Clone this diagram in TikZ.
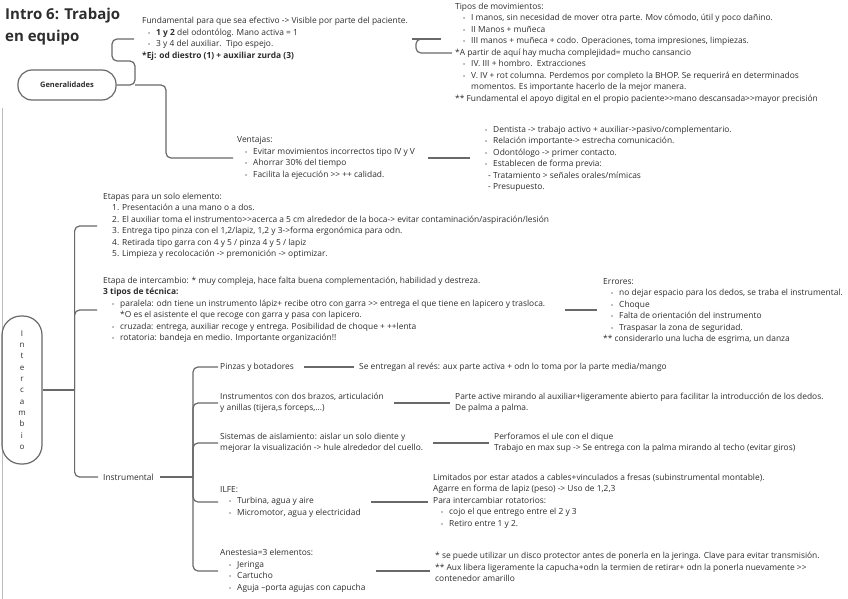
\documentclass[tikz,border=0pt]{standalone}
\usepackage{fontspec}
\setmainfont{Open Sans}
\usetikzlibrary{positioning,arrows.meta}
\definecolor{inkgray}{RGB}{45,45,45}
\definecolor{wiregray}{RGB}{105,105,105}
\newcommand{\bul}[1][0pt]{\hspace*{#1}\makebox[8pt][l]{\fontsize{5.5}{5}\selectfont•}}

\begin{document}
\begin{tikzpicture}[x=1pt, y=-1pt,
  note/.style={anchor=west, align=left, inner sep=0pt, text=inkgray, font=\fontsize{8.4}{11.5}\selectfont},
  pill/.style={draw=wiregray, line width=1.2pt, rounded corners=#1, text=inkgray, align=center},
  link/.style={draw=wiregray, line width=1.2pt, rounded corners=5pt}]
  \useasboundingbox (0,0) rectangle (848,599);
  \draw[wiregray!45, line width=0.6pt] (2,108) -- (2,599);
  \node[anchor=north west, inner sep=0pt, align=left, text=inkgray, font=\fontsize{15}{22}\selectfont\bfseries] (title) at (5,8) {Intro 6: Trabajo\\en equipo};

  % Generalidades
  \node[pill=14pt, minimum width=98pt, minimum height=30pt, font=\fontsize{7.5}{8}\selectfont\bfseries] (gen) at (67,85) {Generalidades};
  \node[note] (fund) at (142,39) {Fundamental para que sea efectivo -> Visible por parte del paciente.\\
    \bul[6pt]\textbf{1 y 2} del odontólog. Mano activa = 1\\
    \bul[6pt]3 y 4 del auxiliar.\ \ Tipo espejo.\\
    \textbf{*Ej: od diestro (1) + auxiliar zurda (3)}};
  \node[note] (tipos) at (455,53) {Tipos de movimientos:\\
    \bul[8pt]I manos, sin necesidad de mover otra parte. Mov cómodo, útil y poco dañino.\\
    \bul[8pt]II Manos + muñeca\\
    \bul[8pt]III manos + muñeca + codo. Operaciones, toma impresiones, limpiezas.\\
    *A partir de aquí hay mucha complejidad= mucho cansancio\\
    \bul[8pt]IV. III + hombro.\ \ Extracciones\\
    \bul[8pt]V. IV + rot columna. Perdemos por completo la BHOP. Se requerirá en determinados\\
    \hspace*{16pt}momentos. Es importante hacerlo de la mejor manera.\\
    ** Fundamental el apoyo digital en el propio paciente>{}>mano descansada>{}>mayor precisión};
  \node[note] (vent) at (237,158) {Ventajas:\\
    \bul[8pt]Evitar movimientos incorrectos tipo IV y V\\
    \bul[8pt]Ahorrar 30\% del tiempo\\
    \bul[8pt]Facilita la ejecución >{}> ++ calidad.};
  \node[note] (dent) at (485,159) {\bul Dentista -> trabajo activo + auxiliar->pasivo/complementario.\\
    \bul Relación importante-> estrecha comunicación.\\
    \bul Odontólogo -> primer contacto.\\
    \bul Establecen de forma previa:\\
    \hspace*{3pt}- Tratamiento > señales orales/mímicas\\
    \hspace*{3pt}- Presupuesto.};
  \coordinate (gj) at (135,85);
  \draw[link] (gen.east) -- (gj) -- (135,61) -- (112,61) |- ([xshift=-8pt]fund.west);
  \draw[link] (gj) -- (166,85) |- ([xshift=-4pt]vent.west);
  \draw[link] ([xshift=4pt]fund.east) -- ++(29,0);
  \draw[link] ([xshift=33pt]fund.east) -- ([xshift=8pt]fund.east) |- ([xshift=-3pt]tipos.west);
  \draw[link, shorten <=13pt, shorten >=15pt] (vent.east) -- (vent.east -| dent.west);

  % Intercambio
  \node[pill=19pt, minimum width=40pt, minimum height=148pt, font=\fontsize{8}{11.3}\selectfont] (inter) at (22,390) {I\\n\\t\\e\\r\\c\\a\\m\\b\\i\\o};
  \node[note] (etapas) at (103,226) {Etapas para un solo elemento:\\
    \hspace*{9pt}1. Presentación a una mano o a dos.\\
    \hspace*{9pt}2. El auxiliar toma el instrumento>{}>acerca a 5 cm alrededor de la boca-> evitar contaminación/aspiración/lesión\\
    \hspace*{9pt}3. Entrega tipo pinza con el 1,2/lapiz, 1,2 y 3->forma ergonómica para odn.\\
    \hspace*{9pt}4. Retirada tipo garra con 4 y 5 / pinza 4 y 5 / lapiz\\
    \hspace*{9pt}5. Limpieza y recolocación -> premonición -> optimizar.};
  \node[note] (etint) at (103,310) {Etapa de intercambio: * muy compleja, hace falta buena complementación, habilidad y destreza.\\
    \textbf{3 tipos de técnica:}\\
    \bul[9pt]paralela: odn tiene un instrumento lápiz+ recibe otro con garra >{}> entrega el que tiene en lapicero y trasloca.\\
    \hspace*{17pt}*O es el asistente el que recoge con garra y pasa con lapicero.\\
    \bul[9pt]cruzada: entrega, auxiliar recoge y entrega. Posibilidad de choque + ++lenta\\
    \bul[9pt]rotatoria: bandeja en medio. Importante organización!!};
  \node[note] (errores) at (603,311) {Errores:\\
    \bul[8pt]no dejar espacio para los dedos, se traba el instrumental.\\
    \bul[8pt]Choque\\
    \bul[8pt]Falta de orientación del instrumento\\
    \bul[8pt]Traspasar la zona de seguridad.\\
    ** considerarlo una lucha de esgrima, un danza};
  \node[note] (instr) at (103,477) {Instrumental};
  \draw[link] (inter.east) -- ++(32,0) coordinate (ij);
  \draw[link, shorten <=6pt] (etapas.west) -| (ij) |- ([xshift=-5pt]instr.west);
  \draw[link, shorten <=6pt] (etint.west) -| (ij);
  \draw[link, shorten <=20pt, shorten >=6pt] (etint.east) -- (etint.east -| errores.west);

  % Instrumental
  \node[note] (pinz) at (220,367) {Pinzas y botadores};
  \node[note] (sentr) at (359,367) {Se entregan al revés: aux parte activa + odn lo toma por la parte media/mango};
  \node[note] (brazos) at (220,403) {Instrumentos con dos brazos, articulación\\y anillas (tijera,s forceps,...)};
  \node[note] (parte) at (455,403) {Parte active mirando al auxiliar+ligeramente abierto para facilitar la introducción de los dedos.\\De palma a palma.};
  \node[note] (sist) at (220,443) {Sistemas de aislamiento: aislar un solo diente y\\mejorar la visualización -> hule alrededor del cuello.};
  \node[note] (perf) at (494,443) {Perforamos el ule con el dique\\Trabajo en max sup -> Se entrega con la palma mirando al techo (evitar giros)};
  \node[note] (ilfe) at (220,502) {ILFE:\\
    \bul[9pt]Turbina, agua y aire\\
    \bul[9pt]Micromotor, agua y electricidad};
  \node[note] (limit) at (433,501) {Limitados por estar atados a cables+vinculados a fresas (subinstrumental montable).\\
    Agarre en forma de lapiz (peso) -> Uso de 1,2,3\\
    Para intercambiar rotatorios:\\
    \bul[8pt]cojo el que entrego entre el 2 y 3\\
    \bul[8pt]Retiro entre 1 y 2.};
  \node[note] (anes) at (220,571) {Anestesia=3 elementos:\\
    \bul[9pt]Jeringa\\
    \bul[9pt]Cartucho\\
    \bul[9pt]Aguja –porta agujas con capucha};
  \node[note] (disco) at (435,567) {* se puede utilizar un disco protector antes de ponerla en la jeringa. Clave para evitar transmisión.\\
    ** Aux libera ligeramente la capucha+odn la termien de retirar+ odn la ponerla nuevamente >{}>\\
    contenedor amarillo};
  \coordinate (nj) at (193,477);
  \draw[link, shorten <=6pt] (instr.east) -- (nj);
  \draw[link] ([xshift=-2pt]pinz.west) -| (nj) |- ([xshift=-2pt]anes.west);
  \foreach \n in {brazos, sist, ilfe} \draw[link] ([xshift=-2pt]\n.west) -| (nj);
  \foreach \a/\b in {pinz/sentr, brazos/parte, sist/perf, ilfe/limit, anes/disco}
    \draw[link, shorten <=10pt, shorten >=5pt] (\a.east) -- (\a.east -| \b.west);
\end{tikzpicture}
\end{document}
